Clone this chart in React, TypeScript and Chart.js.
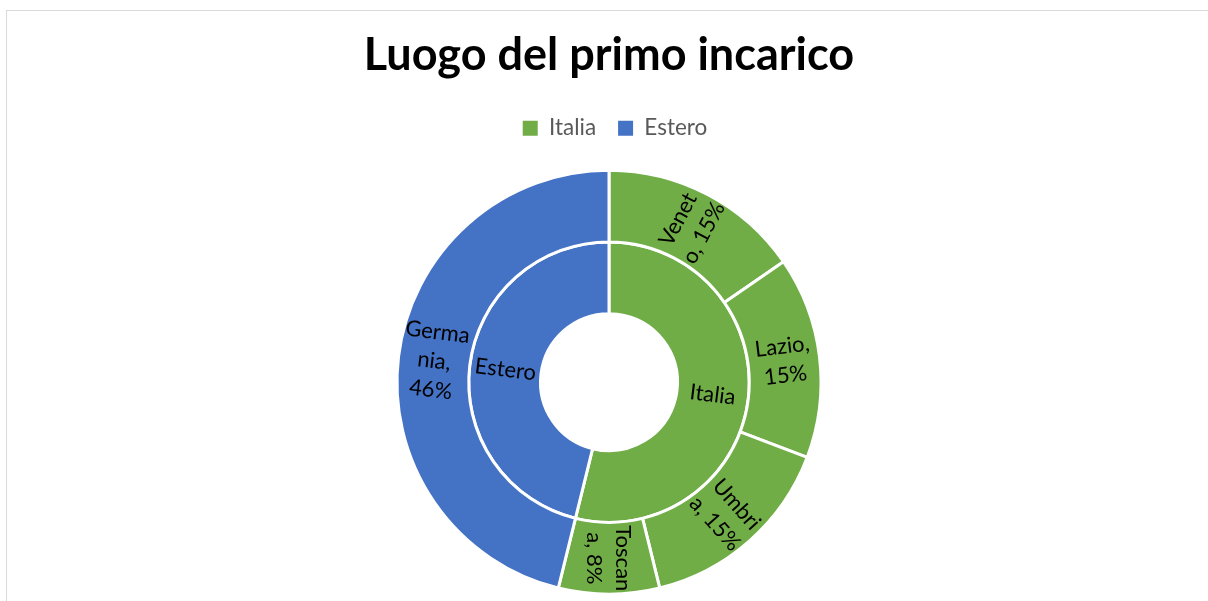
import React, { useEffect, useRef } from "react";
import { Chart, registerables } from "chart.js";

Chart.register(...registerables);

// ---- data ----
const titleText = "Luogo del primo incarico";
const groupLabels = ["Italia", "Estero"];
const groupValues = [7, 6];
const groupLabelLines = [["Italia"], ["Estero"]];
const regionLabels = ["Veneto", "Lazio", "Umbria", "Toscana", "Germania"];
const regionValues = [2, 2, 2, 1, 6];
const regionGroupIndex = [0, 0, 0, 0, 1];
const regionLabelLines = [
  ["Venet", "o, 15%"],
  ["Lazio,", "15%"],
  ["Umbri", "a, 15%"],
  ["Toscan", "a, 8%"],
  ["Germa", "nia,", "46%"],
];

// ---- styles ----
const groupColors = ["#70AD47", "#4472C4"];
const FONT = "Lato, 'Open Sans', sans-serif";
const OUTER_R = 212;
const HOLE_R = 68.5;
const LEGEND_SHIFT = 6;

const arcLabels = {
  id: "arcLabels",
  afterLayout(chart: any) {
    const l = chart.legend;
    if (l) {
      l.left += LEGEND_SHIFT;
      l.right += LEGEND_SHIFT;
    }
  },
  afterDatasetsDraw(chart: any) {
    const ctx = chart.ctx as CanvasRenderingContext2D;
    chart.data.datasets.forEach((ds: any, di: number) => {
      const meta = chart.getDatasetMeta(di);
      const lineSets: string[][] = ds.labelLines || [];
      meta.data.forEach((arc: any, i: number) => {
        const lines = lineSets[i];
        if (!lines) return;
        const p = arc.getProps(["x", "y", "startAngle", "endAngle", "innerRadius", "outerRadius"], true);
        const mid = (p.startAngle + p.endAngle) / 2;
        const r = (p.innerRadius + p.outerRadius) / 2;
        const cx = p.x + Math.cos(mid) * r;
        const cy = p.y + Math.sin(mid) * r;
        let rot = mid;
        while (rot > Math.PI / 2 + 1e-6) rot -= Math.PI;
        while (rot <= -Math.PI / 2 + 1e-6) rot += Math.PI;
        const lh = 29;
        ctx.save();
        ctx.translate(cx, cy);
        ctx.rotate(rot);
        ctx.font = `22px ${FONT}`;
        ctx.fillStyle = "#000000";
        ctx.textAlign = "center";
        ctx.textBaseline = "middle";
        lines.forEach((t, k) => {
          ctx.fillText(t, 0, (k - (lines.length - 1) / 2) * lh);
        });
        ctx.restore();
      });
    });
  },
};

export default function App() {
  const ref = useRef<HTMLCanvasElement | null>(null);

  useEffect(() => {
    if (!ref.current) return;
    const chart = new Chart(ref.current, {
      type: "doughnut",
      data: {
        labels: regionLabels,
        datasets: [
          {
            label: "Regione",
            data: regionValues,
            backgroundColor: regionGroupIndex.map((g) => groupColors[g]),
            borderColor: "#ffffff",
            borderWidth: 3,
            labelLines: regionLabelLines,
          } as any,
          {
            label: "Gruppo",
            data: groupValues,
            backgroundColor: groupColors,
            borderColor: "#ffffff",
            borderWidth: 3,
            labelLines: groupLabelLines,
          } as any,
        ],
      },
      options: {
        responsive: false,
        animation: false,
        radius: OUTER_R,
        cutout: `${(HOLE_R / OUTER_R) * 100}%`,
        layout: { padding: { top: 0, bottom: 16, left: 0, right: 0 } },
        plugins: {
          title: {
            display: true,
            text: titleText,
            color: "#000000",
            font: { family: FONT, size: 45, weight: "bold" },
            padding: { top: 17.5, bottom: 12.4 },
          },
          legend: {
            display: true,
            position: "top",
            onClick: () => {},
            labels: {
              color: "#595959",
              font: { family: FONT, size: 22.5 },
              boxWidth: 15,
              boxHeight: 15,
              padding: 22,
              generateLabels: () =>
                groupLabels.map((t, i) => ({
                  text: t,
                  fillStyle: groupColors[i],
                  strokeStyle: groupColors[i],
                  lineWidth: 0,
                  hidden: false,
                  index: i,
                  fontColor: "#595959",
                })),
            },
          },
          tooltip: { enabled: false },
        },
      } as any,
      plugins: [arcLabels],
    });
    return () => chart.destroy();
  }, []);

  return (
    <div
      style={{
        position: "fixed",
        left: 6,
        top: 10,
        width: 1204,
        height: 620,
        border: "1px solid #d9d9d9",
        background: "#ffffff",
      }}
    >
      <canvas ref={ref} width={1204} height={620} style={{ display: "block" }} />
    </div>
  );
}
